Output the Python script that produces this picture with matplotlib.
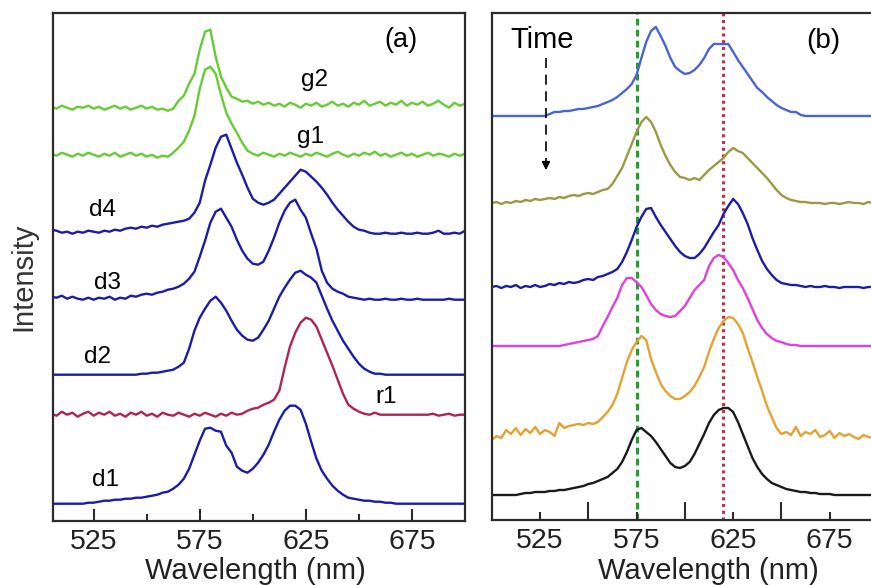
import matplotlib

matplotlib.use("Agg")
import matplotlib.pyplot as plt
import numpy as np

plt.rcParams["font.family"] = ["Liberation Sans", "DejaVu Sans"]

# wavelength grids (nm)
wl_a = np.arange(505, 700.1, 2.5)
wl_b = np.arange(500, 697.6, 2.5)

# panel (a): offset spectra, arbitrary units
g2 = [414, 412, 415, 413, 411, 414, 413, 415, 412, 414,
      411, 413, 415, 412, 414, 411, 413, 415, 412, 414,
      411, 412, 410, 412, 420, 425, 437, 447, 471, 489,
      491, 464, 444, 433, 424, 422, 419, 420, 417, 419,
      416, 418, 415, 417, 414, 418, 416, 413, 417, 415,
      418, 414, 416, 419, 415, 417, 414, 418, 416, 420,
      415, 417, 419, 415, 418, 416, 420, 415, 418, 416,
      419, 415, 417, 420, 416, 413, 418, 415, 417]
g1 = [367, 365, 368, 366, 364, 367, 365, 368, 366, 364,
      367, 365, 368, 364, 366, 368, 365, 367, 364, 366,
      363, 365, 364, 368, 373, 379, 390, 405, 432, 451,
      454, 447, 426, 408, 397, 388, 378, 370, 367, 365,
      368, 366, 364, 367, 365, 368, 366, 364, 367, 365,
      368, 366, 364, 367, 369, 366, 364, 367, 365, 368,
      366, 369, 365, 367, 364, 366, 368, 365, 367, 364,
      366, 368, 365, 367, 366, 364, 367, 365, 367]
d4 = [291, 290, 288, 289, 287, 289, 288, 290, 289, 288,
      290, 289, 291, 290, 292, 293, 292, 294, 293, 295,
      294, 296, 297, 298, 299, 300, 302, 308, 318, 340,
      356, 373, 384, 386, 372, 358, 346, 333, 322, 318,
      316, 318, 321, 327, 333, 339, 345, 351, 349, 344,
      339, 333, 326, 318, 311, 305, 299, 294, 291, 290,
      288, 287, 287, 288, 287, 287, 288, 287, 287, 288,
      287, 287, 288, 290, 287, 287, 288, 287, 290]
d3 = [224, 223, 225, 222, 224, 222, 221, 223, 221, 223,
      222, 224, 221, 223, 222, 225, 224, 226, 227, 226,
      228, 229, 231, 232, 234, 237, 242, 249, 264, 280,
      298, 309, 312, 303, 294, 281, 270, 262, 257, 256,
      259, 270, 283, 298, 310, 318, 321, 311, 303, 287,
      272, 250, 238, 232, 229, 227, 224, 223, 222, 221,
      222, 221, 221, 222, 221, 221, 222, 221, 221, 222,
      221, 221, 221, 221, 221, 222, 221, 221, 221]
d2 = [146, 146, 146, 146, 146, 146, 146, 146, 146, 146,
      146, 146, 146, 146, 146, 146, 146, 147, 147, 148,
      148, 149, 150, 151, 154, 158, 172, 190, 203, 212,
      220, 224, 218, 210, 200, 191, 185, 181, 180, 183,
      191, 200, 212, 224, 233, 241, 248, 250, 246, 243,
      238, 225, 212, 200, 190, 180, 172, 164, 157, 152,
      149, 147, 147, 146, 146, 146, 146, 146, 146, 146,
      146, 146, 146, 146, 146, 146, 146, 146, 146]
r1 = [107, 105, 109, 106, 108, 104, 107, 109, 105, 108,
      106, 109, 105, 107, 104, 108, 106, 109, 105, 107,
      104, 108, 106, 105, 108, 106, 104, 107, 105, 108,
      106, 104, 107, 105, 108, 106, 107, 110, 112, 113,
      116, 118, 121, 130, 153, 174, 188, 198, 203, 201,
      194, 181, 168, 155, 141, 127, 116, 112, 109, 107,
      106, 108, 106, 106, 106, 106, 106, 106, 106, 106,
      106, 106, 107, 105, 106, 107, 105, 106, 106]
d1 = [17, 17, 17, 17, 17, 17, 17, 18, 18, 19,
      20, 20, 21, 21, 22, 22, 23, 23, 24, 25,
      26, 28, 29, 32, 36, 42, 52, 66, 80, 92,
      93, 90, 89, 75, 68, 54, 50, 48, 52, 58,
      66, 76, 89, 101, 110, 115, 115, 111, 97, 79,
      62, 50, 42, 35, 30, 26, 23, 22, 21, 20,
      20, 19, 19, 18, 18, 17, 17, 17, 17, 17,
      17, 17, 17, 17, 17, 17, 17, 17, 17]

# panel (b): spectra over time, top to bottom
b1 = [404, 404, 404, 404, 404, 404, 404, 404, 404, 404,
      404, 404, 406, 408, 408, 409, 409, 410, 411, 411,
      412, 413, 414, 416, 418, 420, 423, 427, 431, 436,
      445, 462, 478, 489, 493, 484, 474, 462, 453, 449,
      446, 447, 450, 455, 462, 471, 476, 476, 476, 476,
      468, 460, 453, 446, 439, 432, 428, 423, 419, 415,
      412, 410, 408, 408, 405, 404, 404, 404, 404, 404,
      404, 404, 404, 404, 404, 404, 404, 404, 404, 404]
b2 = [317, 318, 316, 318, 317, 319, 318, 320, 319, 321,
      320, 321, 322, 321, 323, 322, 324, 325, 324, 326,
      327, 326, 328, 330, 331, 336, 344, 352, 364, 376,
      388, 398, 403, 398, 388, 375, 364, 355, 348, 343,
      342, 340, 342, 340, 345, 350, 354, 358, 362, 368,
      372, 369, 367, 362, 357, 352, 347, 342, 336, 330,
      325, 322, 320, 319, 318, 318, 317, 317, 317, 316,
      317, 317, 316, 317, 318, 317, 317, 316, 318, 317]
b3 = [233, 234, 232, 234, 233, 235, 232, 234, 233, 235,
      233, 234, 236, 235, 237, 236, 238, 237, 238, 240,
      241, 240, 243, 244, 246, 248, 251, 258, 268, 280,
      293, 303, 311, 312, 303, 295, 288, 281, 274, 268,
      264, 262, 262, 266, 272, 280, 288, 295, 306, 314,
      321, 316, 307, 296, 282, 270, 259, 251, 245, 240,
      237, 236, 235, 235, 234, 233, 234, 233, 233, 234,
      233, 233, 232, 233, 233, 233, 233, 232, 233, 233]
b4 = [174, 174, 174, 174, 174, 174, 174, 174, 174, 174,
      174, 174, 174, 174, 174, 175, 176, 177, 178, 179,
      180, 181, 184, 194, 203, 213, 222, 235, 242, 242,
      238, 233, 225, 216, 210, 206, 204, 203, 204, 209,
      214, 222, 230, 235, 240, 254, 262, 265, 263, 257,
      250, 240, 232, 222, 211, 200, 192, 186, 182, 179,
      178, 176, 175, 175, 174, 174, 174, 174, 174, 174,
      174, 174, 174, 174, 174, 174, 174, 174, 174, 174]
b5 = [80, 84, 82, 90, 86, 92, 85, 91, 87, 93,
      86, 90, 88, 84, 97, 92, 94, 95, 96, 95,
      97, 96, 98, 103, 108, 115, 126, 142, 158, 170,
      178, 184, 180, 161, 148, 136, 129, 124, 121, 121,
      124, 128, 134, 143, 153, 168, 181, 192, 199, 203,
      202, 196, 187, 172, 158, 143, 129, 114, 103, 92,
      86, 88, 85, 93, 84, 88, 86, 90, 83, 85,
      89, 82, 87, 84, 86, 83, 81, 85, 83, 82]
b6 = [25, 25, 25, 25, 25, 25, 26, 27, 27, 28,
      28, 28, 29, 29, 30, 30, 31, 32, 33, 34,
      36, 37, 39, 41, 43, 47, 51, 58, 68, 80,
      90, 92, 88, 84, 78, 71, 64, 57, 53, 52,
      54, 58, 66, 76, 86, 97, 105, 110, 112, 112,
      108, 98, 86, 74, 62, 53, 46, 41, 37, 35,
      33, 31, 30, 29, 28, 28, 27, 27, 26, 26,
      26, 25, 25, 25, 25, 25, 25, 25, 25, 25]

labels_a = ["g2", "g1", "d4", "d3", "d2", "r1", "d1"]
label_pos_a = [(629, 441), (627, 384), (529, 311), (531.5, 238), (527, 164), (663, 124), (530.5, 41)]
marker_green = 575
marker_red = 620

DARK = "#2b2b2b"
GREEN = "#66cc33"
NAVY = "#1c1ca8"
CRIMSON = "#b2234f"


def style_axis(ax, xlim, ylim, major_len, minor_len):
    ax.set_xlim(*xlim)
    ax.set_ylim(*ylim)
    ax.set_yticks([])
    ax.set_xticks([525, 575, 625, 675])
    ax.set_xticks([550, 600, 650], minor=True)
    ax.tick_params(axis="x", which="major", direction="in", length=major_len, width=1.5,
                   labelsize=20.5, pad=6, color=DARK, labelcolor="#222222")
    ax.tick_params(axis="x", which="minor", direction="in", length=minor_len, width=1.5, color=DARK)
    for sp in ax.spines.values():
        sp.set_linewidth(1.6)
        sp.set_color(DARK)
    ax.set_xlabel("Wavelength (nm)", fontsize=21, color="#222222")


fig = plt.figure(figsize=(8.71, 5.85), dpi=100)
ax1 = fig.add_axes([0.0612, 0.1099, 0.4727, 0.8684])
ax2 = fig.add_axes([0.5645, 0.1111, 0.4380, 0.8667])

series_a = [(g2, GREEN), (g1, GREEN), (d4, NAVY), (d3, NAVY), (d2, NAVY), (r1, CRIMSON), (d1, NAVY)]
for ys, col in series_a:
    ax1.plot(wl_a, ys, color=col, lw=1.7)
for name, (xx, yy) in zip(labels_a, label_pos_a):
    ax1.text(xx, yy, name, fontsize=17.5, ha="center", va="center")
ax1.text(670, 481, "(a)", fontsize=19.5, ha="center", va="center")
style_axis(ax1, (506, 700), (0, 508), 9, 5)
ax1.set_ylabel("Intensity", fontsize=21, color="#333333")
ax1.yaxis.set_label_coords(-0.038, 0.48)

series_b = [(b1, "#4a64d6"), (b2, "#9a9a44"), (b3, NAVY), (b4, "#e040dc"), (b5, "#e4a232"), (b6, "#1a1a1a")]
for ys, col in series_b:
    ax2.plot(wl_b, ys, color=col, lw=1.7)
ax2.axvline(marker_green, color="#1fa02a", lw=2.2, ls=(0, (2.2, 1.4)), zorder=0)
ax2.axvline(marker_red, color="#c0304a", lw=2.2, ls=(0, (1.0, 1.2)), zorder=0)

ax2.text(525.9, 480, "Time", fontsize=21, ha="center", va="center")
ax2.text(671.5, 479, "(b)", fontsize=20, ha="center", va="center")
ax2.plot([528.1, 528.1], [462, 356], color="black", lw=1.2, ls=(0, (6, 4)))
ax2.annotate("", xy=(528.1, 347), xytext=(528.1, 358),
             arrowprops=dict(arrowstyle="-|>", color="black", lw=1.2, mutation_scale=12))
style_axis(ax2, (500, 697.5), (0, 507), 6, 13)
ax2.spines["right"].set_visible(False)
ax2.xaxis.set_label_coords(0.567, -0.072)
ax1.xaxis.set_label_coords(0.49, -0.072)

fig.savefig("out.png", dpi=100)
